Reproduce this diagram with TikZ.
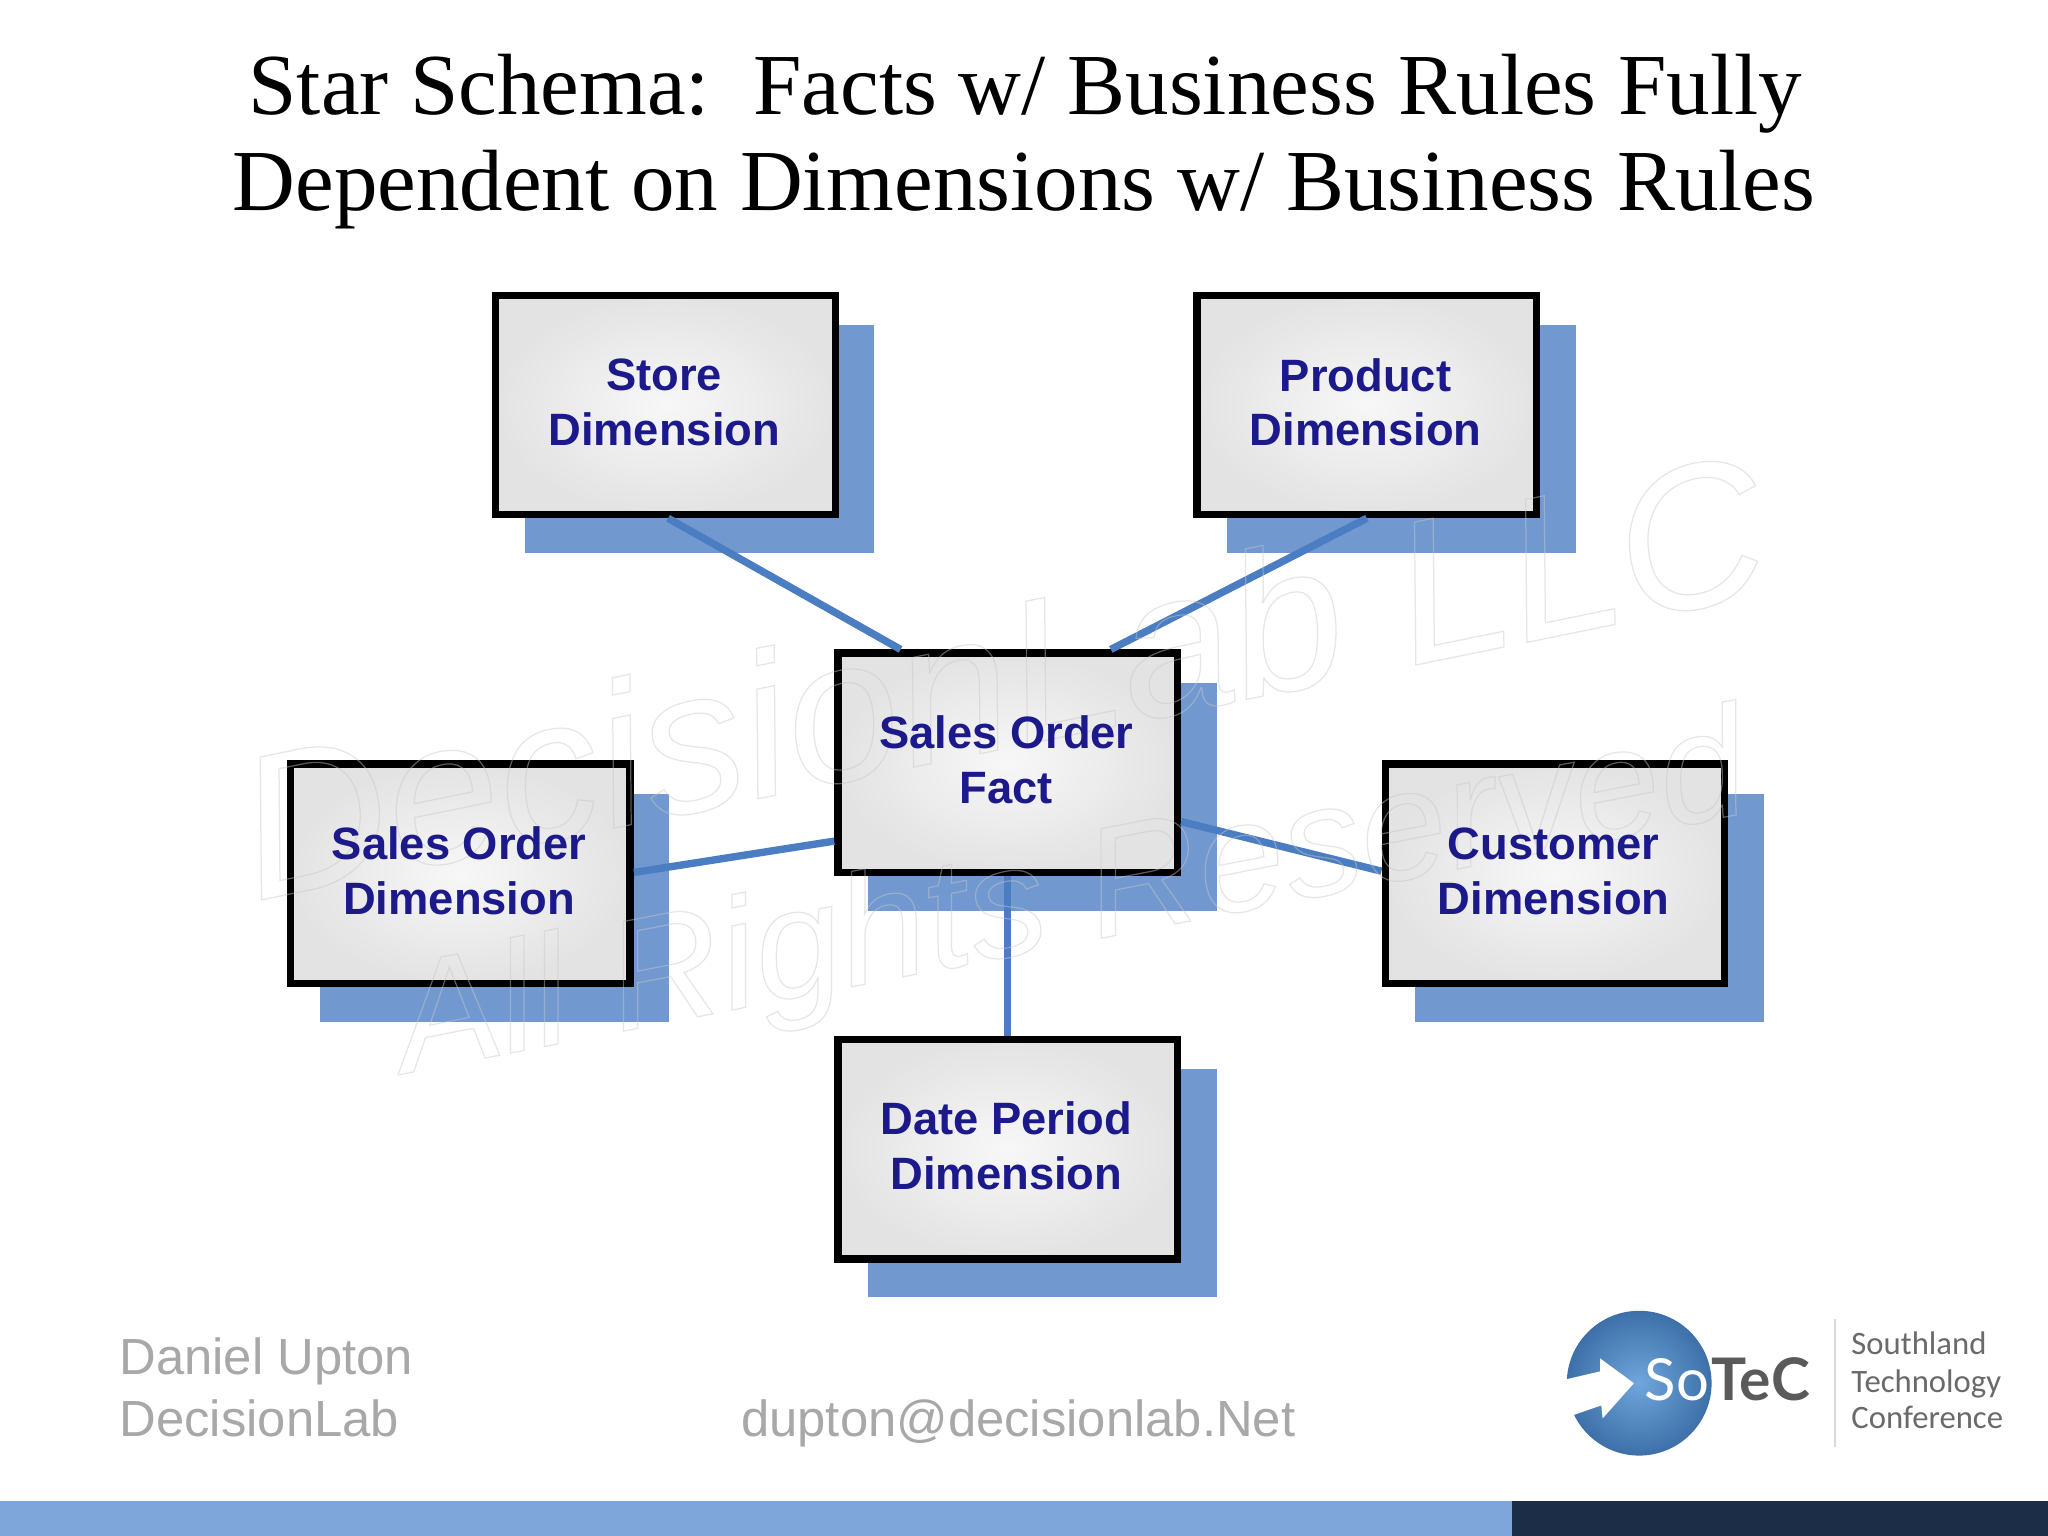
\documentclass[tikz,border=0pt]{standalone}
\usepackage{fontspec}
\setmainfont{Liberation Sans}
\newfontfamily\titlefont{Liberation Serif}
\newfontfamily\logofont{Lato}
\newfontfamily\logosub{Carlito}
\usetikzlibrary{calc}
\definecolor{shadowblue}{HTML}{7199D0}
\definecolor{linkblue}{HTML}{4B7DC3}
\definecolor{labelnavy}{HTML}{1C1A8A}
\definecolor{footgray}{HTML}{A8A8A8}
\definecolor{barlight}{HTML}{7EA6DA}
\definecolor{bardark}{HTML}{1C2E47}
\definecolor{logogray}{HTML}{5A5A5A}
\definecolor{subgray}{HTML}{6A6A6A}
\definecolor{markgray}{HTML}{C8C8C8}
\definecolor{balllight}{HTML}{6FA6DC}
\definecolor{balldark}{HTML}{3D70A8}
\newcommand{\outlinetext}[1]{\special{pdf:code 1 Tr 0.35 w}#1\special{pdf:code 0 Tr}}
\tikzset{
  x=0.0130612cm, y=-0.0130612cm,
  dimbox/.style={draw=black, line width=2.1pt, inner color=white!97!black, outer color=white!89!black,
    minimum width=96.6pt, minimum height=62.4pt, inner sep=0pt},
  boxlabel/.style={align=center, inner sep=0pt, font=\fontsize{12.9}{15.6}\selectfont\bfseries, text=labelnavy},
  boxshadow/.style={fill=shadowblue, draw=none, minimum width=99.2pt, minimum height=64.9pt, inner sep=0pt, outer sep=0pt},
  link/.style={draw=linkblue, line width=2.1pt},
  footer/.style={font=\fontsize{14.45}{17.5}\selectfont, text=footgray, anchor=base west, inner sep=0pt},
  titleline/.style={font=\titlefont\fontsize{24.75}{27}\selectfont, text=black, anchor=base, inner sep=0pt},
  logosubline/.style={font=\logosub\fontsize{9.3}{10.5}\selectfont, text=subgray, anchor=base west, inner sep=0pt},
  watermark/.style={font=\itshape\fontsize{#1}{#1}\selectfont, text=markgray, anchor=base west, inner sep=0pt, opacity=.45}
}
\begin{document}
\begin{tikzpicture}
\useasboundingbox (0,0) rectangle (1568,1176);
\fill[white] (0,0) rectangle (1568,1176);
% title
\node[titleline] (t1) at (785,88) {Star Schema:\ \ Facts w/ Business Rules Fully};
\node[titleline] (t2) at (784,161) {Dependent on Dimensions w/ Business Rules};
% shadows
\node[boxshadow] (s1) at (535.5,336) {};
\node[boxshadow] (s2) at (1073,336) {};
\node[boxshadow] (s3) at (798,610.5) {};
\node[boxshadow] (s4) at (378.5,695) {};
\node[boxshadow] (s5) at (1217,695) {};
\node[boxshadow] (s6) at (798,905.5) {};
% boxes
\node[dimbox] (store) at (509.5,310) {};
\node[dimbox] (product) at (1046.5,310) {};
\node[dimbox] (fact) at (771.5,584) {};
\node[dimbox] (sales) at (352.5,669) {};
\node[dimbox] (customer) at (1190.5,669) {};
\node[dimbox] (date) at (771.5,880) {};
% connectors
\draw[link] ($(store.south)+(2,0)$) -- ($(fact.north)+(-82,0)$);
\draw[link] ($(product.south)+(0,0)$) -- ($(fact.north)+(79,0)$);
\draw[link] ($(sales.east)+(0,-1)$) -- ($(fact.west)+(0,60)$);
\draw[link] ($(fact.east)+(0,45)$) -- ($(customer.west)+(0,-2)$);
\draw[link] (fact.south) -- (date.north);
% watermark
\node[watermark=58, rotate=11.5] (w1) at (195,690) {\outlinetext{DecisionLab LLC}};
\node[watermark=44.5, rotate=11] (w2) at (310,822) {\outlinetext{All Rights Reserved}};
% labels
\node[boxlabel] (l1) at ($(store)+(-1,-2)$) {Store\\Dimension};
\node[boxlabel] (l2) at ($(product)+(-1,-2)$) {Product\\Dimension};
\node[boxlabel] (l3) at ($(fact)+(-1,-2)$) {Sales Order\\Fact};
\node[boxlabel] (l4) at ($(sales)+(-1,-2)$) {Sales Order\\Dimension};
\node[boxlabel] (l5) at ($(customer)+(-1,-2)$) {Customer\\Dimension};
\node[boxlabel] (l6) at ($(date)+(-1,-3)$) {Date Period\\Dimension};
% footer
\node[footer] (f1) at (91,1052) {Daniel Upton};
\node[footer] (f2) at (91,1100) {DecisionLab};
\node[footer] (f3) at (567,1100) {dupton@decisionlab.Net};
% bottom bar
\fill[barlight] (0,1149) rectangle (1158,1176);
\fill[bardark] (1158,1149) rectangle (1568,1176);
% logo
\node[circle, minimum size=41.2pt, inner sep=0pt, inner color=balllight, outer color=balldark] (ball) at (1255,1059) {};
\fill[white] (1195,1057) -- (1225,1050) -- (1225,1040) -- (1251,1059) -- (1227,1086) -- (1226,1076) -- (1203,1084) -- cycle;
\node[font=\logofont\fontsize{16.5}{16.5}\selectfont, text=white, anchor=base east, inner sep=0pt] (so) at (1309,1072) {So};
\node[font=\logofont\fontsize{16.7}{16.7}\selectfont\bfseries, text=logogray, anchor=base west, inner sep=0pt] (tec) at (1310,1072) {TeC};
\draw[draw=black!15, line width=.4pt] (1405,1010) -- (1405,1108);
\node[logosubline] (sub1) at (1417,1037) {Southland};
\node[logosubline] (sub2) at (1417,1066) {Technology};
\node[logosubline] (sub3) at (1417,1094) {Conference};
\end{tikzpicture}
\end{document}
